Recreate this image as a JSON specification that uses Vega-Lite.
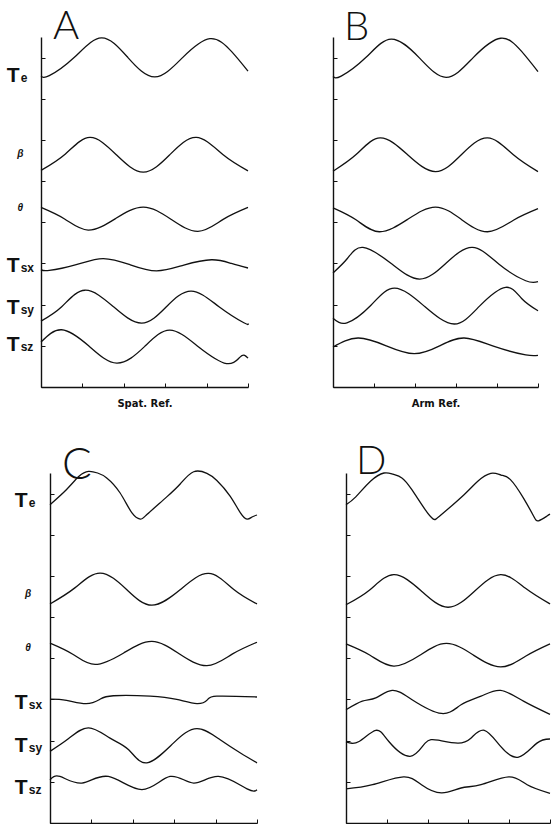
{
  "$schema": "https://vega.github.io/schema/vega-lite/v6.json",
  "background": "white",
  "padding": {"left": 6, "top": 7, "right": 0, "bottom": 0},
  "datasets": {
    "curves": [
      {"p":"A","s":"Te","x":0,"y":7.55},{"p":"A","s":"Te","x":0.2,"y":7.56},{"p":"A","s":"Te","x":0.8,"y":8.0},{"p":"A","s":"Te","x":1.46,"y":8.48},{"p":"A","s":"Te","x":2.1,"y":8.0},{"p":"A","s":"Te","x":2.75,"y":7.53},{"p":"A","s":"Te","x":3.42,"y":8.0},{"p":"A","s":"Te","x":4.08,"y":8.46},{"p":"A","s":"Te","x":4.6,"y":8.15},{"p":"A","s":"Te","x":5.0,"y":7.67},
      {"p":"A","s":"b","x":0,"y":5.26},{"p":"A","s":"b","x":0.59,"y":5.66},{"p":"A","s":"b","x":1.18,"y":6.06},{"p":"A","s":"b","x":1.82,"y":5.64},{"p":"A","s":"b","x":2.47,"y":5.22},{"p":"A","s":"b","x":3.11,"y":5.64},{"p":"A","s":"b","x":3.75,"y":6.06},{"p":"A","s":"b","x":4.4,"y":5.64},{"p":"A","s":"b","x":5.0,"y":5.25},
      {"p":"A","s":"t","x":0,"y":4.36},{"p":"A","s":"t","x":0.57,"y":4.08},{"p":"A","s":"t","x":1.14,"y":3.81},{"p":"A","s":"t","x":1.8,"y":4.09},{"p":"A","s":"t","x":2.47,"y":4.37},{"p":"A","s":"t","x":3.13,"y":4.08},{"p":"A","s":"t","x":3.79,"y":3.78},{"p":"A","s":"t","x":4.4,"y":4.07},{"p":"A","s":"t","x":5.0,"y":4.36},
      {"p":"A","s":"sx","x":0,"y":2.85},{"p":"A","s":"sx","x":0.2,"y":2.83},{"p":"A","s":"sx","x":0.85,"y":2.97},{"p":"A","s":"sx","x":1.5,"y":3.12},{"p":"A","s":"sx","x":2.15,"y":2.97},{"p":"A","s":"sx","x":2.79,"y":2.82},{"p":"A","s":"sx","x":3.45,"y":2.96},{"p":"A","s":"sx","x":4.12,"y":3.09},{"p":"A","s":"sx","x":4.6,"y":3.0},{"p":"A","s":"sx","x":5.0,"y":2.89},
      {"p":"A","s":"sy","x":0,"y":1.6},{"p":"A","s":"sy","x":0.5,"y":1.95},{"p":"A","s":"sy","x":1.06,"y":2.35},{"p":"A","s":"sy","x":1.75,"y":1.95},{"p":"A","s":"sy","x":2.43,"y":1.55},{"p":"A","s":"sy","x":3.03,"y":1.95},{"p":"A","s":"sy","x":3.63,"y":2.33},{"p":"A","s":"sy","x":4.3,"y":1.95},{"p":"A","s":"sy","x":4.9,"y":1.56},{"p":"A","s":"sy","x":5.0,"y":1.54},
      {"p":"A","s":"sz","x":0,"y":1.09},{"p":"A","s":"sz","x":0.5,"y":1.39},{"p":"A","s":"sz","x":1.15,"y":1.0},{"p":"A","s":"sz","x":1.83,"y":0.58},{"p":"A","s":"sz","x":2.5,"y":0.98},{"p":"A","s":"sz","x":3.11,"y":1.38},{"p":"A","s":"sz","x":3.8,"y":0.98},{"p":"A","s":"sz","x":4.48,"y":0.57},{"p":"A","s":"sz","x":4.8,"y":0.72},{"p":"A","s":"sz","x":4.92,"y":0.77},{"p":"A","s":"sz","x":5.0,"y":0.7},

      {"p":"B","s":"Te","x":0,"y":7.54},{"p":"B","s":"Te","x":0.2,"y":7.55},{"p":"B","s":"Te","x":0.8,"y":8.0},{"p":"B","s":"Te","x":1.42,"y":8.45},{"p":"B","s":"Te","x":2.1,"y":8.0},{"p":"B","s":"Te","x":2.76,"y":7.52},{"p":"B","s":"Te","x":3.42,"y":8.0},{"p":"B","s":"Te","x":4.09,"y":8.47},{"p":"B","s":"Te","x":4.6,"y":8.15},{"p":"B","s":"Te","x":5.0,"y":7.66},
      {"p":"B","s":"b","x":0,"y":5.24},{"p":"B","s":"b","x":0.57,"y":5.65},{"p":"B","s":"b","x":1.15,"y":6.05},{"p":"B","s":"b","x":1.82,"y":5.64},{"p":"B","s":"b","x":2.5,"y":5.23},{"p":"B","s":"b","x":3.13,"y":5.64},{"p":"B","s":"b","x":3.77,"y":6.05},{"p":"B","s":"b","x":4.4,"y":5.64},{"p":"B","s":"b","x":5.0,"y":5.23},
      {"p":"B","s":"t","x":0,"y":4.35},{"p":"B","s":"t","x":0.56,"y":4.06},{"p":"B","s":"t","x":1.13,"y":3.77},{"p":"B","s":"t","x":1.82,"y":4.07},{"p":"B","s":"t","x":2.5,"y":4.37},{"p":"B","s":"t","x":3.13,"y":4.07},{"p":"B","s":"t","x":3.77,"y":3.77},{"p":"B","s":"t","x":4.4,"y":4.05},{"p":"B","s":"t","x":5.0,"y":4.33},
      {"p":"B","s":"sx","x":0,"y":2.77},{"p":"B","s":"sx","x":0.35,"y":3.12},{"p":"B","s":"sx","x":0.73,"y":3.39},{"p":"B","s":"sx","x":1.42,"y":3.0},{"p":"B","s":"sx","x":2.11,"y":2.62},{"p":"B","s":"sx","x":2.75,"y":3.0},{"p":"B","s":"sx","x":3.4,"y":3.39},{"p":"B","s":"sx","x":4.05,"y":2.98},{"p":"B","s":"sx","x":4.7,"y":2.58},{"p":"B","s":"sx","x":5.0,"y":2.56},
      {"p":"B","s":"sy","x":0,"y":1.67},{"p":"B","s":"sy","x":0.34,"y":1.56},{"p":"B","s":"sy","x":0.92,"y":1.98},{"p":"B","s":"sy","x":1.5,"y":2.4},{"p":"B","s":"sy","x":2.23,"y":1.96},{"p":"B","s":"sy","x":2.96,"y":1.53},{"p":"B","s":"sy","x":3.58,"y":1.97},{"p":"B","s":"sy","x":4.21,"y":2.42},{"p":"B","s":"sy","x":4.6,"y":2.15},{"p":"B","s":"sy","x":5.0,"y":1.85},
      {"p":"B","s":"sz","x":0,"y":0.97},{"p":"B","s":"sz","x":0.61,"y":1.19},{"p":"B","s":"sz","x":1.3,"y":1.0},{"p":"B","s":"sz","x":1.98,"y":0.81},{"p":"B","s":"sz","x":2.6,"y":1.0},{"p":"B","s":"sz","x":3.2,"y":1.19},{"p":"B","s":"sz","x":3.95,"y":0.98},{"p":"B","s":"sz","x":4.7,"y":0.78},{"p":"B","s":"sz","x":5.0,"y":0.77},

      {"p":"C","s":"Te","x":0,"y":7.73},{"p":"C","s":"Te","x":0.4,"y":8.1},{"p":"C","s":"Te","x":0.7,"y":8.42},{"p":"C","s":"Te","x":0.93,"y":8.54},{"p":"C","s":"Te","x":1.15,"y":8.5},{"p":"C","s":"Te","x":1.37,"y":8.38},{"p":"C","s":"Te","x":1.69,"y":8.02},{"p":"C","s":"Te","x":1.98,"y":7.53},{"p":"C","s":"Te","x":2.18,"y":7.38},{"p":"C","s":"Te","x":2.34,"y":7.49},{"p":"C","s":"Te","x":2.82,"y":7.92},{"p":"C","s":"Te","x":3.15,"y":8.24},{"p":"C","s":"Te","x":3.47,"y":8.53},{"p":"C","s":"Te","x":3.79,"y":8.49},{"p":"C","s":"Te","x":4.03,"y":8.32},{"p":"C","s":"Te","x":4.35,"y":7.94},{"p":"C","s":"Te","x":4.6,"y":7.53},{"p":"C","s":"Te","x":4.76,"y":7.38},{"p":"C","s":"Te","x":4.88,"y":7.43},{"p":"C","s":"Te","x":5.0,"y":7.48},
      {"p":"C","s":"b","x":0,"y":5.32},{"p":"C","s":"b","x":0.6,"y":5.71},{"p":"C","s":"b","x":1.21,"y":6.07},{"p":"C","s":"b","x":1.85,"y":5.67},{"p":"C","s":"b","x":2.46,"y":5.29},{"p":"C","s":"b","x":3.15,"y":5.67},{"p":"C","s":"b","x":3.83,"y":6.06},{"p":"C","s":"b","x":4.44,"y":5.67},{"p":"C","s":"b","x":5.0,"y":5.32},
      {"p":"C","s":"t","x":0,"y":4.37},{"p":"C","s":"t","x":0.55,"y":4.1},{"p":"C","s":"t","x":1.09,"y":3.85},{"p":"C","s":"t","x":1.78,"y":4.13},{"p":"C","s":"t","x":2.46,"y":4.41},{"p":"C","s":"t","x":3.12,"y":4.11},{"p":"C","s":"t","x":3.79,"y":3.82},{"p":"C","s":"t","x":4.4,"y":4.1},{"p":"C","s":"t","x":5.0,"y":4.39},
      {"p":"C","s":"sx","x":0,"y":3.01},{"p":"C","s":"sx","x":0.4,"y":2.98},{"p":"C","s":"sx","x":0.87,"y":2.9},{"p":"C","s":"sx","x":1.2,"y":3.0},{"p":"C","s":"sx","x":1.53,"y":3.09},{"p":"C","s":"sx","x":2.42,"y":3.08},{"p":"C","s":"sx","x":3.06,"y":3.0},{"p":"C","s":"sx","x":3.55,"y":2.9},{"p":"C","s":"sx","x":3.8,"y":2.99},{"p":"C","s":"sx","x":4.03,"y":3.08},{"p":"C","s":"sx","x":5.0,"y":3.06},
      {"p":"C","s":"sy","x":0,"y":1.74},{"p":"C","s":"sy","x":0.45,"y":2.05},{"p":"C","s":"sy","x":0.93,"y":2.31},{"p":"C","s":"sy","x":1.45,"y":2.06},{"p":"C","s":"sy","x":1.9,"y":1.78},{"p":"C","s":"sy","x":2.34,"y":1.46},{"p":"C","s":"sy","x":2.98,"y":1.94},{"p":"C","s":"sy","x":3.55,"y":2.29},{"p":"C","s":"sy","x":4.11,"y":2.02},{"p":"C","s":"sy","x":4.6,"y":1.7},{"p":"C","s":"sy","x":5.0,"y":1.46},
      {"p":"C","s":"sz","x":0,"y":1.05},{"p":"C","s":"sz","x":0.24,"y":1.13},{"p":"C","s":"sz","x":0.77,"y":0.97},{"p":"C","s":"sz","x":1.41,"y":1.13},{"p":"C","s":"sz","x":2.22,"y":0.81},{"p":"C","s":"sz","x":2.9,"y":1.13},{"p":"C","s":"sz","x":3.47,"y":0.97},{"p":"C","s":"sz","x":4.07,"y":1.13},{"p":"C","s":"sz","x":4.76,"y":0.83},{"p":"C","s":"sz","x":5.0,"y":0.81},

      {"p":"D","s":"Te","x":0,"y":7.73},{"p":"D","s":"Te","x":0.24,"y":7.92},{"p":"D","s":"Te","x":0.6,"y":8.3},{"p":"D","s":"Te","x":0.93,"y":8.5},{"p":"D","s":"Te","x":1.15,"y":8.47},{"p":"D","s":"Te","x":1.37,"y":8.38},{"p":"D","s":"Te","x":1.61,"y":8.1},{"p":"D","s":"Te","x":1.94,"y":7.61},{"p":"D","s":"Te","x":2.14,"y":7.38},{"p":"D","s":"Te","x":2.34,"y":7.49},{"p":"D","s":"Te","x":2.9,"y":7.98},{"p":"D","s":"Te","x":3.23,"y":8.3},{"p":"D","s":"Te","x":3.55,"y":8.49},{"p":"D","s":"Te","x":3.8,"y":8.45},{"p":"D","s":"Te","x":4.03,"y":8.34},{"p":"D","s":"Te","x":4.35,"y":7.89},{"p":"D","s":"Te","x":4.6,"y":7.45},{"p":"D","s":"Te","x":4.72,"y":7.34},{"p":"D","s":"Te","x":4.92,"y":7.45},{"p":"D","s":"Te","x":5.0,"y":7.5},
      {"p":"D","s":"b","x":0,"y":5.3},{"p":"D","s":"b","x":0.58,"y":5.66},{"p":"D","s":"b","x":1.17,"y":6.03},{"p":"D","s":"b","x":1.84,"y":5.64},{"p":"D","s":"b","x":2.5,"y":5.24},{"p":"D","s":"b","x":3.15,"y":5.63},{"p":"D","s":"b","x":3.79,"y":6.03},{"p":"D","s":"b","x":4.4,"y":5.7},{"p":"D","s":"b","x":5.0,"y":5.32},
      {"p":"D","s":"t","x":0,"y":4.35},{"p":"D","s":"t","x":0.58,"y":4.08},{"p":"D","s":"t","x":1.17,"y":3.81},{"p":"D","s":"t","x":1.82,"y":4.08},{"p":"D","s":"t","x":2.46,"y":4.36},{"p":"D","s":"t","x":3.12,"y":4.08},{"p":"D","s":"t","x":3.79,"y":3.79},{"p":"D","s":"t","x":4.4,"y":4.05},{"p":"D","s":"t","x":5.0,"y":4.35},
      {"p":"D","s":"sx","x":0,"y":2.75},{"p":"D","s":"sx","x":0.4,"y":2.96},{"p":"D","s":"sx","x":0.73,"y":3.04},{"p":"D","s":"sx","x":1.13,"y":3.22},{"p":"D","s":"sx","x":1.61,"y":3.0},{"p":"D","s":"sx","x":2.34,"y":2.66},{"p":"D","s":"sx","x":2.82,"y":2.87},{"p":"D","s":"sx","x":3.31,"y":3.08},{"p":"D","s":"sx","x":3.79,"y":3.22},{"p":"D","s":"sx","x":4.35,"y":2.96},{"p":"D","s":"sx","x":5.0,"y":2.64},
      {"p":"D","s":"sy","x":0,"y":1.97},{"p":"D","s":"sy","x":0.32,"y":1.98},{"p":"D","s":"sy","x":0.73,"y":2.25},{"p":"D","s":"sy","x":1.05,"y":1.98},{"p":"D","s":"sy","x":1.57,"y":1.62},{"p":"D","s":"sy","x":1.94,"y":1.94},{"p":"D","s":"sy","x":2.26,"y":2.01},{"p":"D","s":"sy","x":2.74,"y":1.94},{"p":"D","s":"sy","x":3.06,"y":2.06},{"p":"D","s":"sy","x":3.39,"y":2.25},{"p":"D","s":"sy","x":3.79,"y":1.86},{"p":"D","s":"sy","x":4.23,"y":1.6},{"p":"D","s":"sy","x":4.68,"y":1.94},{"p":"D","s":"sy","x":5.0,"y":2.04},
      {"p":"D","s":"sz","x":0,"y":0.83},{"p":"D","s":"sz","x":0.65,"y":0.93},{"p":"D","s":"sz","x":1.41,"y":1.12},{"p":"D","s":"sz","x":1.85,"y":0.93},{"p":"D","s":"sz","x":2.34,"y":0.73},{"p":"D","s":"sz","x":2.82,"y":0.85},{"p":"D","s":"sz","x":3.31,"y":0.93},{"p":"D","s":"sz","x":3.99,"y":1.12},{"p":"D","s":"sz","x":4.44,"y":0.93},{"p":"D","s":"sz","x":5.0,"y":0.72}
    ],
    "tlabels": [
      {"p":"A","m":"T","sub":"e","y":7.58},{"p":"A","m":"T","sub":"sx","y":2.97},{"p":"A","m":"T","sub":"sy","y":1.96},{"p":"A","m":"T","sub":"sz","y":1.05},
      {"p":"C","m":"T","sub":"e","y":7.85},{"p":"C","m":"T","sub":"sx","y":2.96},{"p":"C","m":"T","sub":"sy","y":1.9},{"p":"C","m":"T","sub":"sz","y":0.89}
    ],
    "glabels": [
      {"p":"A","g":"β","y":5.65},{"p":"A","g":"θ","y":4.34},
      {"p":"C","g":"β","y":5.55},{"p":"C","g":"θ","y":4.25}
    ]
  },
  "config": {
    "view": {"stroke": null},
    "axis": {"domainColor": "#111", "domainWidth": 1.4, "tickColor": "#111", "tickSize": -4, "tickWidth": 1, "labels": false, "grid": false, "titleFont": "DejaVu Sans", "titleFontWeight": "bold", "titleFontSize": 10, "titleColor": "#111"},
    "axisX": {"titlePadding": 11},
    "title": {"anchor": "start", "frame": "group", "fontSize": 40, "font": "Lato", "fontWeight": 300, "color": "#111", "baseline": "alphabetic", "offset": -12},
    "line": {"interpolate": "natural", "color": "#111", "strokeWidth": 1.3}
  },
  "spacing": 33,
  "vconcat": [
    {
      "hconcat": [
        {
          "width": 207, "height": 350,
          "title": {"text": "A", "dx": 12},
          "layer": [
            {"data": {"name": "curves"}, "transform": [{"filter": "datum.p == 'A'"}], "mark": "line",
             "encoding": {"x": {"field": "x", "type": "quantitative", "scale": {"domain": [0, 5], "nice": false}, "axis": {"title": "Spat. Ref.", "values": [0,1,2,3,4,5]}},
                          "y": {"field": "y", "type": "quantitative", "scale": {"domain": [0, 8.5], "nice": false}, "axis": {"title": null, "values": [0,1,2,3,4,5,6,7,8]}},
                          "detail": {"field": "s"}}},
            {"data": {"name": "tlabels"}, "transform": [{"filter": "datum.p == 'A'"}], "mark": {"type": "text", "align": "left", "baseline": "alphabetic", "dy": 7.5, "font": "Liberation Sans", "fontWeight": "bold", "fontSize": 21, "color": "#111"},
             "encoding": {"x": {"datum": -0.83}, "y": {"field": "y", "type": "quantitative", "scale": {"domain": [0, 8.5], "nice": false}}, "text": {"field": "m"}}},
            {"data": {"name": "tlabels"}, "transform": [{"filter": "datum.p == 'A'"}], "mark": {"type": "text", "align": "left", "baseline": "alphabetic", "dy": 7.5, "dx": 14, "font": "Liberation Sans", "fontWeight": "bold", "fontSize": 12, "color": "#111"},
             "encoding": {"x": {"datum": -0.83}, "y": {"field": "y", "type": "quantitative", "scale": {"domain": [0, 8.5], "nice": false}}, "text": {"field": "sub"}}},
            {"data": {"name": "glabels"}, "transform": [{"filter": "datum.p == 'A'"}], "mark": {"type": "text", "align": "center", "baseline": "middle", "font": "Liberation Sans", "fontStyle": "italic", "fontWeight": "bold", "fontSize": 10, "color": "#111"},
             "encoding": {"x": {"datum": -0.5}, "y": {"field": "y", "type": "quantitative", "scale": {"domain": [0, 8.5], "nice": false}}, "text": {"field": "g"}}}
          ]
        },
        {
          "width": 205, "height": 350,
          "title": {"text": "B", "dx": 11},
          "layer": [
            {"data": {"name": "curves"}, "transform": [{"filter": "datum.p == 'B'"}], "mark": "line",
             "encoding": {"x": {"field": "x", "type": "quantitative", "scale": {"domain": [0, 5], "nice": false}, "axis": {"title": "Arm Ref.", "values": [0,1,2,3,4,5]}},
                          "y": {"field": "y", "type": "quantitative", "scale": {"domain": [0, 8.5], "nice": false}, "axis": {"title": null, "values": [0,1,2,3,4,5,6,7,8]}},
                          "detail": {"field": "s"}}}
          ]
        }
      ],
      "spacing": 85,
      "bounds": "flush"
    },
    {
      "hconcat": [
        {"width": 1, "height": 1, "view": {"fill": "white", "stroke": null}, "data": {"values": [{"z": 0}]}, "mark": {"type": "point", "opacity": 0, "size": 1}, "encoding": {}},
        {
          "hconcat": [
            {
              "width": 207, "height": 350,
              "title": {"text": "C", "dx": 12, "fontSize": 44, "offset": -20},
              "layer": [
                {"data": {"name": "curves"}, "transform": [{"filter": "datum.p == 'C'"}], "mark": "line",
                 "encoding": {"x": {"field": "x", "type": "quantitative", "scale": {"domain": [0, 5], "nice": false}, "axis": {"title": null, "values": [0,1,2,3,4,5]}},
                              "y": {"field": "y", "type": "quantitative", "scale": {"domain": [0, 8.5], "nice": false}, "axis": {"title": null, "values": [0,1,2,3,4,5,6,7,8]}},
                              "detail": {"field": "s"}}},
                {"data": {"name": "tlabels"}, "transform": [{"filter": "datum.p == 'C'"}], "mark": {"type": "text", "align": "left", "baseline": "alphabetic", "dy": 7.5, "font": "Liberation Sans", "fontWeight": "bold", "fontSize": 21, "color": "#111"},
                 "encoding": {"x": {"datum": -0.85}, "y": {"field": "y", "type": "quantitative", "scale": {"domain": [0, 8.5], "nice": false}}, "text": {"field": "m"}}},
                {"data": {"name": "tlabels"}, "transform": [{"filter": "datum.p == 'C'"}], "mark": {"type": "text", "align": "left", "baseline": "alphabetic", "dy": 7.5, "dx": 14, "font": "Liberation Sans", "fontWeight": "bold", "fontSize": 12, "color": "#111"},
                 "encoding": {"x": {"datum": -0.85}, "y": {"field": "y", "type": "quantitative", "scale": {"domain": [0, 8.5], "nice": false}}, "text": {"field": "sub"}}},
                {"data": {"name": "glabels"}, "transform": [{"filter": "datum.p == 'C'"}], "mark": {"type": "text", "align": "center", "baseline": "middle", "font": "Liberation Sans", "fontStyle": "italic", "fontWeight": "bold", "fontSize": 10, "color": "#111"},
                 "encoding": {"x": {"datum": -0.53}, "y": {"field": "y", "type": "quantitative", "scale": {"domain": [0, 8.5], "nice": false}}, "text": {"field": "g"}}}
              ]
            },
            {
              "width": 204, "height": 350,
              "title": {"text": "D", "dx": 10},
              "layer": [
                {"data": {"name": "curves"}, "transform": [{"filter": "datum.p == 'D'"}], "mark": "line",
                 "encoding": {"x": {"field": "x", "type": "quantitative", "scale": {"domain": [0, 5], "nice": false}, "axis": {"title": null, "values": [0,1,2,3,4,5]}},
                              "y": {"field": "y", "type": "quantitative", "scale": {"domain": [0, 8.5], "nice": false}, "axis": {"title": null, "values": [0,1,2,3,4,5,6,7,8]}},
                              "detail": {"field": "s"}}}
              ]
            }
          ],
          "spacing": 89,
          "bounds": "flush"
        }
      ],
      "spacing": 8,
      "bounds": "flush"
    }
  ]
}
